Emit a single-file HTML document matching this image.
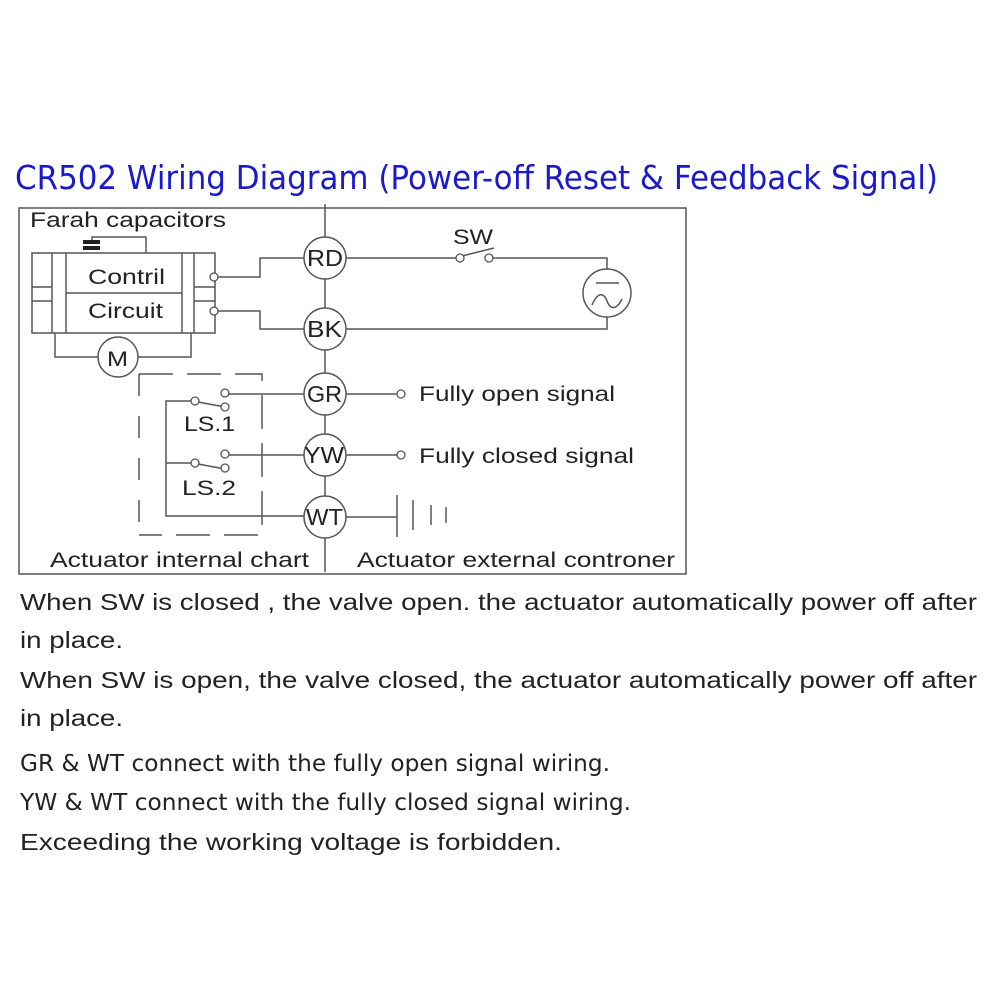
<!DOCTYPE html>
<html><head><meta charset="utf-8"><style>html,body{margin:0;padding:0;background:#fff;width:1000px;height:1000px;overflow:hidden}</style></head>
<body>
<svg width="1000" height="1000" viewBox="0 0 1000 1000" xmlns="http://www.w3.org/2000/svg" font-family="Liberation Sans, sans-serif">
<rect width="1000" height="1000" fill="#fff"/>
<text x="15" y="189" font-size="33" fill="#1a1acc" textLength="923" lengthAdjust="spacingAndGlyphs" font-family="DejaVu Sans, sans-serif">CR502 Wiring Diagram (Power-off Reset &amp; Feedback Signal)</text>

<g stroke="#555" stroke-width="1.5" fill="none">
<rect x="19" y="208" width="667" height="366"/>
<line x1="325" y1="204" x2="325" y2="572"/>
<rect x="32" y="253" width="183" height="80"/>
<line x1="52" y1="253" x2="52" y2="333"/>
<line x1="66" y1="253" x2="66" y2="333"/>
<line x1="182" y1="253" x2="182" y2="333"/>
<line x1="194" y1="253" x2="194" y2="333"/>
<line x1="66" y1="293" x2="182" y2="293"/>
<line x1="32" y1="287" x2="52" y2="287"/><line x1="32" y1="301" x2="52" y2="301"/>
<line x1="194" y1="287" x2="215" y2="287"/><line x1="194" y1="301" x2="215" y2="301"/>
<polyline points="92,242 92,237 146,237 146,253"/>
<polyline points="218,277 260,277 260,258 304,258"/>
<polyline points="218,311 260,311 260,329 304,329"/>
<polyline points="55,333 55,357 98,357"/>
<polyline points="138,357 191,357 191,333"/>
<circle cx="118" cy="357" r="20"/>
<polyline points="139,374 262,374 262,535 139,535" stroke-dasharray="34,14"/>
<line x1="139" y1="374" x2="139" y2="535" stroke-dasharray="22,20"/>
<line x1="229" y1="394" x2="304" y2="394"/>
<polyline points="191,401 166,401 166,516 304,516"/>
<line x1="166" y1="463" x2="191" y2="463"/>
<line x1="229" y1="455" x2="304" y2="455"/>
<line x1="198" y1="402" x2="225" y2="407"/>
<line x1="198" y1="464" x2="225" y2="469"/>
<circle cx="325" cy="258" r="21" fill="#fff"/>
<circle cx="325" cy="329" r="21" fill="#fff"/>
<circle cx="325" cy="394" r="21" fill="#fff"/>
<circle cx="325" cy="455" r="21" fill="#fff"/>
<circle cx="325" cy="517" r="21" fill="#fff"/>
<line x1="346" y1="258" x2="456" y2="258"/>
<polyline points="493,258 607,258 607,269"/>
<line x1="462" y1="256" x2="494" y2="248"/>
<polyline points="346,329 607,329 607,317"/>
<circle cx="607" cy="293" r="24"/>
<line x1="596" y1="283" x2="619" y2="283"/>
<path d="M592 305 C598 291,604 293,607 301 S616 311,622 299"/>
<line x1="346" y1="394" x2="397" y2="394"/>
<line x1="346" y1="455" x2="397" y2="455"/>
<line x1="346" y1="517" x2="397" y2="517"/>
<line x1="397" y1="495" x2="397" y2="537"/>
<line x1="413" y1="500" x2="413" y2="530"/>
<line x1="431" y1="505" x2="431" y2="525"/>
<line x1="446" y1="507" x2="446" y2="523"/>
</g>
<g stroke="#555" stroke-width="1.3" fill="#fff">
<circle cx="214" cy="277" r="4"/><circle cx="214" cy="311" r="4"/>
<circle cx="225" cy="393" r="4"/><circle cx="225" cy="407" r="4"/><circle cx="195" cy="401" r="4"/>
<circle cx="225" cy="454" r="4"/><circle cx="225" cy="468" r="4"/><circle cx="195" cy="463" r="4"/>
<circle cx="460" cy="258" r="4"/><circle cx="489" cy="258" r="4"/>
<circle cx="401" cy="394" r="4"/><circle cx="401" cy="455" r="4"/>
</g>
<rect x="83" y="240" width="17" height="4" fill="#222"/>
<rect x="83" y="246" width="17" height="4" fill="#222"/>

<g fill="#222" font-size="21">
<text x="30" y="227" textLength="196" lengthAdjust="spacingAndGlyphs">Farah capacitors</text>
<text x="88" y="284" textLength="77" lengthAdjust="spacingAndGlyphs">Contril</text>
<text x="88" y="318" textLength="75" lengthAdjust="spacingAndGlyphs">Circuit</text>
<text x="107" y="366" textLength="21" lengthAdjust="spacingAndGlyphs">M</text>
<text x="184" y="431" textLength="51" lengthAdjust="spacingAndGlyphs">LS.1</text>
<text x="182" y="495" textLength="54" lengthAdjust="spacingAndGlyphs">LS.2</text>
<text x="453" y="244" textLength="40" lengthAdjust="spacingAndGlyphs">SW</text>
<text x="419" y="401" textLength="196" lengthAdjust="spacingAndGlyphs">Fully open signal</text>
<text x="419" y="463" textLength="215" lengthAdjust="spacingAndGlyphs">Fully closed signal</text>
<text x="50" y="567" textLength="259" lengthAdjust="spacingAndGlyphs">Actuator internal chart</text>
<text x="357" y="567" textLength="318" lengthAdjust="spacingAndGlyphs">Actuator external controner</text>
</g>
<g fill="#222" font-size="23">
<text x="307" y="266" textLength="36" lengthAdjust="spacingAndGlyphs">RD</text>
<text x="307" y="337" textLength="35" lengthAdjust="spacingAndGlyphs">BK</text>
<text x="307" y="402" textLength="35" lengthAdjust="spacingAndGlyphs">GR</text>
<text x="304" y="463" textLength="40" lengthAdjust="spacingAndGlyphs">YW</text>
<text x="306" y="525" textLength="37" lengthAdjust="spacingAndGlyphs">WT</text>
</g>

<g fill="#222" font-size="23.5">
<text x="20" y="610" textLength="957" lengthAdjust="spacingAndGlyphs">When SW is closed , the valve open. the actuator automatically power off after</text>
<text x="20" y="648" textLength="103" lengthAdjust="spacingAndGlyphs">in place.</text>
<text x="20" y="688" textLength="957" lengthAdjust="spacingAndGlyphs">When SW is open, the valve closed, the actuator automatically power off after</text>
<text x="20" y="726" textLength="103" lengthAdjust="spacingAndGlyphs">in place.</text>
<text x="20" y="771" textLength="590" lengthAdjust="spacingAndGlyphs" font-family="DejaVu Sans, sans-serif">GR &amp; WT connect with the fully open signal wiring.</text>
<text x="20" y="810" textLength="611" lengthAdjust="spacingAndGlyphs" font-family="DejaVu Sans, sans-serif">YW &amp; WT connect with the fully closed signal wiring.</text>
<text x="20" y="850" textLength="542" lengthAdjust="spacingAndGlyphs">Exceeding the working voltage is forbidden.</text>
</g>
</svg>
</body></html>
